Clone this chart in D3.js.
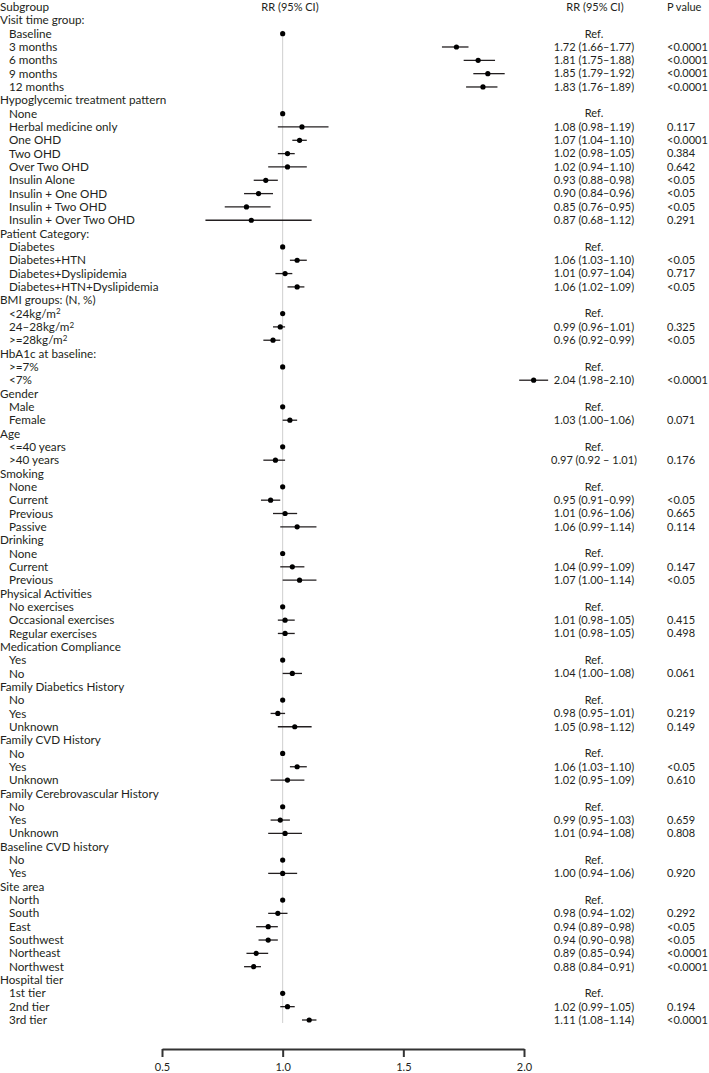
<!DOCTYPE html>
<html>
<head>
<meta charset="utf-8">
<script src="https://cdn.jsdelivr.net/npm/d3@7"></script>
<style>
  html, body { margin: 0; padding: 0; background: #fff; }
  svg text { font-family: Lato, "Open Sans", sans-serif; font-size: 11.7px; fill: #231f20; }
  svg text.num { font-size: 11px; }
</style>
</head>
<body>
<div id="chart"></div>
<script>
// ---- DATA ----
const rowLabels = ["Visit time group:","Baseline","3 months","6 months","9 months","12 months",
  "Hypoglycemic treatment pattern","None","Herbal medicine only","One OHD","Two OHD","Over Two OHD","Insulin Alone","Insulin + One OHD","Insulin + Two OHD","Insulin + Over Two OHD",
  "Patient Category:","Diabetes","Diabetes+HTN","Diabetes+Dyslipidemia","Diabetes+HTN+Dyslipidemia",
  "BMI groups: (N, %)","<24kg/m²","24\u201328kg/m²",">=28kg/m²",
  "HbA1c at baseline:",">=7%","<7%",
  "Gender","Male","Female",
  "Age","<=40 years",">40 years",
  "Smoking","None","Current","Previous","Passive",
  "Drinking","None","Current","Previous",
  "Physical Activities","No exercises","Occasional exercises","Regular exercises",
  "Medication Compliance","Yes","No",
  "Family Diabetics History","No","Yes","Unknown",
  "Family CVD History","No","Yes","Unknown",
  "Family Cerebrovascular History","No","Yes","Unknown",
  "Baseline CVD history","No","Yes",
  "Site area","North","South","East","Southwest","Northeast","Northwest",
  "Hospital tier","1st tier","2nd tier","3rd tier"];
const rowIsGroup = [1,0,0,0,0,0, 1,0,0,0,0,0,0,0,0,0, 1,0,0,0,0, 1,0,0,0, 1,0,0, 1,0,0, 1,0,0, 1,0,0,0,0, 1,0,0,0, 1,0,0,0, 1,0,0, 1,0,0,0, 1,0,0,0, 1,0,0,0, 1,0,0, 1,0,0,0,0,0,0, 1,0,0,0];
const rr =     [null,1,1.72,1.81,1.85,1.83, null,1,1.08,1.07,1.02,1.02,0.93,0.90,0.85,0.87, null,1,1.06,1.01,1.06, null,1,0.99,0.96, null,1,2.04, null,1,1.03, null,1,0.97, null,1,0.95,1.01,1.06, null,1,1.04,1.07, null,1,1.01,1.01, null,1,1.04, null,1,0.98,1.05, null,1,1.06,1.02, null,1,0.99,1.01, null,1,1.00, null,1,0.98,0.94,0.94,0.89,0.88, null,1,1.02,1.11];
const ciLow =  [null,null,1.66,1.75,1.79,1.76, null,null,0.98,1.04,0.98,0.94,0.88,0.84,0.76,0.68, null,null,1.03,0.97,1.02, null,null,0.96,0.92, null,null,1.98, null,null,1.00, null,null,0.92, null,null,0.91,0.96,0.99, null,null,0.99,1.00, null,null,0.98,0.98, null,null,1.00, null,null,0.95,0.98, null,null,1.03,0.95, null,null,0.95,0.94, null,null,0.94, null,null,0.94,0.89,0.90,0.85,0.84, null,null,0.99,1.08];
const ciHigh = [null,null,1.77,1.88,1.92,1.89, null,null,1.19,1.10,1.05,1.10,0.98,0.96,0.95,1.12, null,null,1.10,1.04,1.09, null,null,1.01,0.99, null,null,2.10, null,null,1.06, null,null,1.01, null,null,0.99,1.06,1.14, null,null,1.09,1.14, null,null,1.05,1.05, null,null,1.08, null,null,1.01,1.12, null,null,1.10,1.09, null,null,1.03,1.08, null,null,1.06, null,null,1.02,0.98,0.98,0.94,0.91, null,null,1.05,1.14];
const rrText = ["","Ref.","1.72 (1.66\u20131.77)","1.81 (1.75\u20131.88)","1.85 (1.79\u20131.92)","1.83 (1.76\u20131.89)",
  "","Ref.","1.08 (0.98\u20131.19)","1.07 (1.04\u20131.10)","1.02 (0.98\u20131.05)","1.02 (0.94\u20131.10)","0.93 (0.88\u20130.98)","0.90 (0.84\u20130.96)","0.85 (0.76\u20130.95)","0.87 (0.68\u20131.12)",
  "","Ref.","1.06 (1.03\u20131.10)","1.01 (0.97\u20131.04)","1.06 (1.02\u20131.09)",
  "","Ref.","0.99 (0.96\u20131.01)","0.96 (0.92\u20130.99)",
  "","Ref.","2.04 (1.98\u20132.10)",
  "","Ref.","1.03 (1.00\u20131.06)",
  "","Ref.","0.97 (0.92 \u2013 1.01)",
  "","Ref.","0.95 (0.91\u20130.99)","1.01 (0.96\u20131.06)","1.06 (0.99\u20131.14)",
  "","Ref.","1.04 (0.99\u20131.09)","1.07 (1.00\u20131.14)",
  "","Ref.","1.01 (0.98\u20131.05)","1.01 (0.98\u20131.05)",
  "","Ref.","1.04 (1.00\u20131.08)",
  "","Ref.","0.98 (0.95\u20131.01)","1.05 (0.98\u20131.12)",
  "","Ref.","1.06 (1.03\u20131.10)","1.02 (0.95\u20131.09)",
  "","Ref.","0.99 (0.95\u20131.03)","1.01 (0.94\u20131.08)",
  "","Ref.","1.00 (0.94\u20131.06)",
  "","Ref.","0.98 (0.94\u20131.02)","0.94 (0.89\u20130.98)","0.94 (0.90\u20130.98)","0.89 (0.85\u20130.94)","0.88 (0.84\u20130.91)",
  "","Ref.","1.02 (0.99\u20131.05)","1.11 (1.08\u20131.14)"];
const pText = ["","","<0.0001","<0.0001","<0.0001","<0.0001",
  "","","0.117","<0.0001","0.384","0.642","<0.05","<0.05","<0.05","0.291",
  "","","<0.05","0.717","<0.05",
  "","","0.325","<0.05",
  "","","<0.0001",
  "","","0.071",
  "","","0.176",
  "","","<0.05","0.665","0.114",
  "","","0.147","<0.05",
  "","","0.415","0.498",
  "","","0.061",
  "","","0.219","0.149",
  "","","<0.05","0.610",
  "","","0.659","0.808",
  "","","0.920",
  "","","0.292","<0.05","<0.05","<0.0001","<0.0001",
  "","","0.194","<0.0001"];
const headers = ["Subgroup","RR (95% CI)","RR (95% CI)","P value"];
const axisTicks = [0.5, 1.0, 1.5, 2.0];

// ---- LAYOUT ----
const W = 709, H = 1073;
const svg = d3.select("#chart").append("svg").attr("width", W).attr("height", H);

const x = d3.scaleLinear().domain([0.5, 2.0]).range([162, 524]);
const y = d3.scalePoint().domain(d3.range(rowLabels.length + 1)).range([7, 1020]);
const rowsIdx = d3.range(rowLabels.length);
const ry = i => y(i + 1);

// headers
svg.append("text").attr("x", 0).attr("y", y(0)).attr("dy", "0.35em").text(headers[0]);
svg.append("text").attr("class", "num").attr("x", 290).attr("y", y(0)).attr("dy", "0.35em").attr("text-anchor", "middle").text(headers[1]);
svg.append("text").attr("class", "num").attr("x", 595).attr("y", y(0)).attr("dy", "0.35em").attr("text-anchor", "middle").text(headers[2]);
svg.append("text").attr("class", "num").attr("x", 667).attr("y", y(0)).attr("dy", "0.35em").text(headers[3]);

// reference line
svg.append("line").attr("x1", x(1)).attr("x2", x(1)).attr("y1", ry(1) - 3).attr("y2", ry(rowLabels.length - 1) + 3)
  .attr("stroke", "#cfcfcf").attr("stroke-width", 1);

// labels
const lab = svg.append("g").selectAll("text").data(rowsIdx).join("text")
  .attr("x", i => rowIsGroup[i] ? 0 : 9)
  .attr("y", i => ry(i)).attr("dy", "0.35em");
lab.each(function(i) {
  const t = d3.select(this);
  const s = rowLabels[i];
  if (s.endsWith("²")) {
    t.append("tspan").text(s.slice(0, -1));
    t.append("tspan").attr("dy", "-0.4em").style("font-size", "8px").text("2");
  } else t.text(s);
});

// CI lines
const ciRows = rowsIdx.filter(i => ciLow[i] != null);
svg.append("g").selectAll("line").data(ciRows).join("line")
  .attr("x1", i => x(ciLow[i])).attr("x2", i => x(ciHigh[i]))
  .attr("y1", i => ry(i)).attr("y2", i => ry(i))
  .attr("stroke", "#231f20").attr("stroke-width", 1.3);

// points
const ptRows = rowsIdx.filter(i => rr[i] != null);
svg.append("g").selectAll("circle").data(ptRows).join("circle")
  .attr("cx", i => x(rr[i])).attr("cy", i => ry(i)).attr("r", 2.6).attr("fill", "#000");

// RR text
svg.append("g").selectAll("text").data(rowsIdx.filter(i => rrText[i])).join("text")
  .attr("class", "num")
  .attr("x", 594).attr("y", i => ry(i)).attr("dy", "0.35em").attr("text-anchor", "middle")
  .text(i => rrText[i]);
// P text
svg.append("g").selectAll("text").data(rowsIdx.filter(i => pText[i])).join("text")
  .attr("class", "num")
  .attr("x", 667).attr("y", i => ry(i)).attr("dy", "0.35em")
  .text(i => pText[i]);

// axis
const axis = d3.axisBottom(x).tickValues(axisTicks).tickFormat(d3.format(".1f"))
  .tickSize(8).tickSizeOuter(0).tickPadding(6);
const ag = svg.append("g").attr("transform", "translate(0,1049)").call(axis);
ag.select(".domain").attr("stroke", "#333").attr("stroke-width", 2);
ag.selectAll(".tick line").attr("stroke", "#333").attr("stroke-width", 2);
ag.selectAll(".tick text").style("font-family", "Lato, sans-serif").style("font-size", "11px").attr("fill", "#231f20");
</script>
</body>
</html>
